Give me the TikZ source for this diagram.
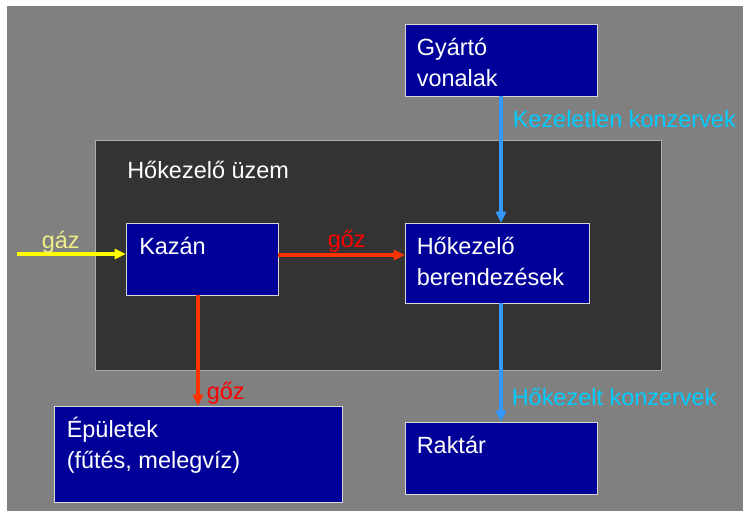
\documentclass[tikz,border=0pt]{standalone}
\usepackage{fontspec}
\setmainfont{Liberation Sans}
\usetikzlibrary{arrows.meta}
\definecolor{bggray}{HTML}{808080}
\definecolor{darkbox}{HTML}{333333}
\definecolor{boxblue}{HTML}{000099}
\definecolor{boxedge}{HTML}{D8D8D8}
\definecolor{gasyellow}{HTML}{FFFF00}
\definecolor{gaslabel}{HTML}{EEEE88}
\definecolor{steamred}{HTML}{FF3300}
\definecolor{steamlabel}{HTML}{FF0000}
\definecolor{flowblue}{HTML}{3399FF}
\definecolor{flowlabel}{HTML}{00CCFF}
\tikzset{
  bluebox/.style={draw=boxedge, line width=0.75pt, fill=boxblue, anchor=north west, inner sep=0pt, outer sep=0pt},
  plantbox/.style={draw=boxedge!80!black, line width=0.75pt, fill=darkbox, anchor=north west, inner sep=0pt, outer sep=0pt},
  txt/.style={anchor=base west, inner sep=0pt, text=white, font=\fontsize{17.6}{21}\selectfont},
  lbl/.style={anchor=base west, inner sep=0pt, font=\fontsize{17.6}{21}\selectfont},
  flow/.style={line width=2.6pt, -{Triangle[length=8.5pt,width=7.5pt]}},
}
\newcommand{\twolines}[2]{\vtop{\baselineskip=23.5pt\hbox{#1}\hbox{#2}}}
\begin{document}
\begin{tikzpicture}[x=0.75pt,y=-0.75pt]
\useasboundingbox (0,0) rectangle (743,511);
\fill[white] (0,0) rectangle (743,511);
\fill[bggray] (7,6) rectangle (743,511);
% plant
\node[plantbox, minimum width=566*0.75pt, minimum height=230*0.75pt] (plant) at (95,140) {};
\node[txt] (planttxt) at (127,178) {Hőkezelő üzem};
% boxes
\node[bluebox, minimum width=192*0.75pt, minimum height=72*0.75pt] (gyarto) at (405,24) {};
\node[txt] (gyartotxt) at (416.5,55) {\twolines{Gyártó}{vonalak}};
\node[bluebox, minimum width=152*0.75pt, minimum height=72*0.75pt] (kazan) at (126,223) {};
\node[txt] (kazantxt) at (139,254) {Kazán};
\node[bluebox, minimum width=184*0.75pt, minimum height=80*0.75pt] (hoke) at (405,223) {};
\node[txt] (hoketxt) at (416.5,254) {\twolines{Hőkezelő}{berendezések}};
\node[bluebox, minimum width=288*0.75pt, minimum height=96*0.75pt] (epul) at (54,406) {};
\node[txt] (epultxt) at (66.5,437) {\twolines{Épületek}{(fűtés, melegvíz)}};
\node[bluebox, minimum width=192*0.75pt, minimum height=72*0.75pt] (raktar) at (405,422) {};
\node[txt] (raktartxt) at (416.5,453) {Raktár};
% gas
\coordinate (gasstart) at (17,254);
\draw[flow, gasyellow] (gasstart) -- (gasstart -| kazan.west);
\node[lbl, text=gaslabel] (gaslbl) at (41.5,248) {gáz};
% steam
\draw[flow, steamred] ([yshift=4*0.75pt]kazan.east) -- ([yshift=4*0.75pt]kazan.east -| hoke.west);
\node[lbl, text=steamlabel] (steam1) at (327.5,247) {gőz};
\draw[flow, steamred] (epul.north |- kazan.south) -- (epul.north);
\node[lbl, text=steamlabel] (steam2) at (206.5,399) {gőz};
% cans
\draw[flow, flowblue] (gyarto.south) -- (gyarto.south |- hoke.north);
\node[lbl, text=flowlabel] (raw) at (512.5,127) {Kezeletlen konzervek};
\draw[flow, flowblue] (raktar.north |- hoke.south) -- (raktar.north);
\node[lbl, text=flowlabel] (done) at (511.5,405) {Hőkezelt konzervek};
\end{tikzpicture}
\end{document}
